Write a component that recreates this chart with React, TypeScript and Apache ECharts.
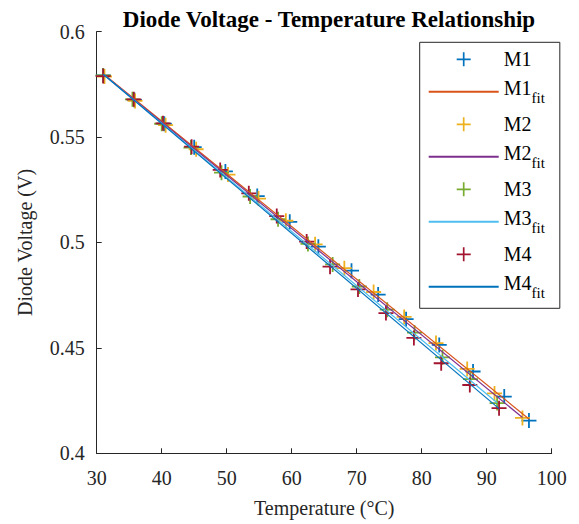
import React, { useEffect, useRef } from "react";
import * as echarts from "echarts";

// Temperatures (°C) and diode voltages (V) for each measurement
const m1T = [31.0, 35.8, 40.4, 45.0, 49.8, 54.7, 59.7, 64.1, 69.2, 73.3, 77.6, 82.7, 87.9, 92.7, 96.5];
const m1V = [0.5792, 0.5676, 0.5563, 0.5452, 0.5337, 0.5220, 0.5098, 0.4980, 0.4866, 0.4753, 0.4636, 0.4514, 0.4388, 0.4269, 0.4155];

const m2T = [31.2, 35.9, 40.6, 45.3, 50.2, 54.9, 59.1, 63.6, 68.1, 72.6, 77.3, 82.2, 87.0, 91.2, 95.5];
const m2V = [0.5787, 0.5671, 0.5556, 0.5442, 0.5322, 0.5208, 0.5103, 0.4991, 0.4878, 0.4765, 0.4647, 0.4523, 0.4400, 0.4284, 0.4168];

const m3T = [31.0, 35.5, 40.0, 44.5, 49.2, 53.6, 57.9, 62.5, 66.3, 70.4, 74.7, 78.9, 83.2, 87.5, 91.6];
const m3V = [0.5792, 0.5679, 0.5563, 0.5450, 0.5331, 0.5218, 0.5110, 0.4993, 0.4896, 0.4791, 0.4681, 0.4572, 0.4455, 0.4352, 0.4238];

const m4T = [31.0, 35.7, 40.2, 44.6, 49.0, 53.4, 57.7, 62.3, 65.9, 70.2, 74.5, 78.8, 83.0, 87.4, 91.9];
const m4V = [0.5789, 0.5679, 0.5565, 0.5454, 0.5344, 0.5233, 0.5125, 0.5004, 0.4885, 0.4777, 0.4665, 0.4547, 0.4427, 0.4324, 0.4214];

// Linear fit end points
const m1FitT = [31.0, 96.5];
const m1FitV = [0.5800, 0.4163];
const m2FitT = [31.2, 95.5];
const m2FitV = [0.5793, 0.4170];
const m3FitT = [31.0, 91.6];
const m3FitV = [0.5797, 0.4240];
const m4FitT = [31.0, 91.9];
const m4FitV = [0.5798, 0.4212];

const xTicks = { min: 30, max: 100, interval: 10 };
const yTicks = { min: 0.4, max: 0.6, interval: 0.05 };

const seriesNames = ["M1", "M1fit", "M2", "M2fit", "M3", "M3fit", "M4", "M4fit"];
const colors = ["#0072BD", "#D95319", "#EDB120", "#7E2F8E", "#77AC30", "#4DBEEE", "#A2142F", "#0072BD"];

const PLUS = "path://M8.8,0h2.4v8.8h8.8v2.4h-8.8v8.8h-2.4v-8.8h-8.8v-2.4h8.8z";
const FONT = "'Liberation Serif', 'Times New Roman', serif";
const INK = "#262626";

const zip = (t: number[], v: number[]) => t.map((x, i) => [x, v[i]]);

export default function App() {
  const ref = useRef<HTMLDivElement>(null);
  useEffect(() => {
    if (!ref.current) return;
    const chart = echarts.init(ref.current, undefined, { renderer: "svg" });
    const pointSets = [zip(m1T, m1V), zip(m2T, m2V), zip(m3T, m3V), zip(m4T, m4V)];
    const fitSets = [zip(m1FitT, m1FitV), zip(m2FitT, m2FitV), zip(m3FitT, m3FitV), zip(m4FitT, m4FitV)];
    const series: any[] = [];
    for (let i = 0; i < 4; i++) {
      series.push({
        name: seriesNames[2 * i],
        type: "scatter",
        data: pointSets[i],
        symbol: PLUS,
        symbolSize: 15,
        itemStyle: { color: colors[2 * i], opacity: 1 },
      });
      series.push({
        name: seriesNames[2 * i + 1],
        type: "line",
        data: fitSets[i],
        symbol: "none",
        showSymbol: false,
        lineStyle: { color: colors[2 * i + 1], width: 1.2 },
        itemStyle: { color: colors[2 * i + 1] },
      });
    }
    chart.setOption({
      animation: false,
      backgroundColor: "#fff",
      title: {
        text: "Diode Voltage - Temperature Relationship",
        left: 324,
        textAlign: "center",
        top: 3,
        textStyle: { fontFamily: FONT, fontSize: 23, fontWeight: "bold", color: "#000" },
      },
      grid: { left: 96.7, right: 27.3, top: 31.6, bottom: 70.7 },
      xAxis: {
        type: "value",
        min: xTicks.min,
        max: xTicks.max,
        interval: xTicks.interval,
        name: "Temperature (°C)",
        nameLocation: "middle",
        nameGap: 45,
        nameTextStyle: { fontFamily: FONT, fontSize: 20, color: INK },
        axisLine: { show: true, lineStyle: { color: INK, width: 1 } },
        axisTick: { show: true, inside: true, length: 5, lineStyle: { color: INK } },
        axisLabel: { fontFamily: FONT, fontSize: 20, color: INK, margin: 15 },
        splitLine: { show: false },
      },
      yAxis: {
        type: "value",
        min: yTicks.min,
        max: yTicks.max,
        interval: yTicks.interval,
        name: "Diode Voltage (V)",
        nameLocation: "middle",
        nameGap: 62,
        nameTextStyle: { fontFamily: FONT, fontSize: 20, color: INK },
        axisLine: { show: true, lineStyle: { color: INK, width: 1 } },
        axisTick: { show: true, inside: true, length: 5, lineStyle: { color: INK } },
        axisLabel: { fontFamily: FONT, fontSize: 20, color: INK, margin: 12 },
        splitLine: { show: false },
      },
      legend: {
        orient: "vertical",
        left: 419.7,
        top: 42.3,
        align: "left",
        backgroundColor: "#fff",
        borderColor: INK,
        borderWidth: 1,
        borderRadius: 0,
        padding: [7, 15, 8, 8],
        itemGap: 9,
        itemWidth: 70,
        itemHeight: 14,
        data: seriesNames.map((n, i) =>
          i % 2 === 0 ? { name: n, icon: PLUS } : { name: n, itemStyle: { opacity: 0 } }
        ),
        formatter: (name: string) =>
          name.endsWith("fit") ? `{m|${name.slice(0, -3)}}{s|fit}` : `{n|${name}}`,
        textStyle: {
          fontFamily: FONT,
          fontSize: 20,
          color: "#000",
          rich: {
            n: { fontFamily: FONT, fontSize: 20, lineHeight: 20, color: "#000" },
            m: { fontFamily: FONT, fontSize: 20, lineHeight: 20, verticalAlign: "top", color: "#000" },
            s: { fontFamily: FONT, fontSize: 15, lineHeight: 27, verticalAlign: "bottom", color: "#000" },
          },
        },
      },
      series,
    });
    return () => chart.dispose();
  }, []);
  return <div ref={ref} style={{ position: "fixed", left: 0, top: 0, width: 579, height: 524 }} />;
}
